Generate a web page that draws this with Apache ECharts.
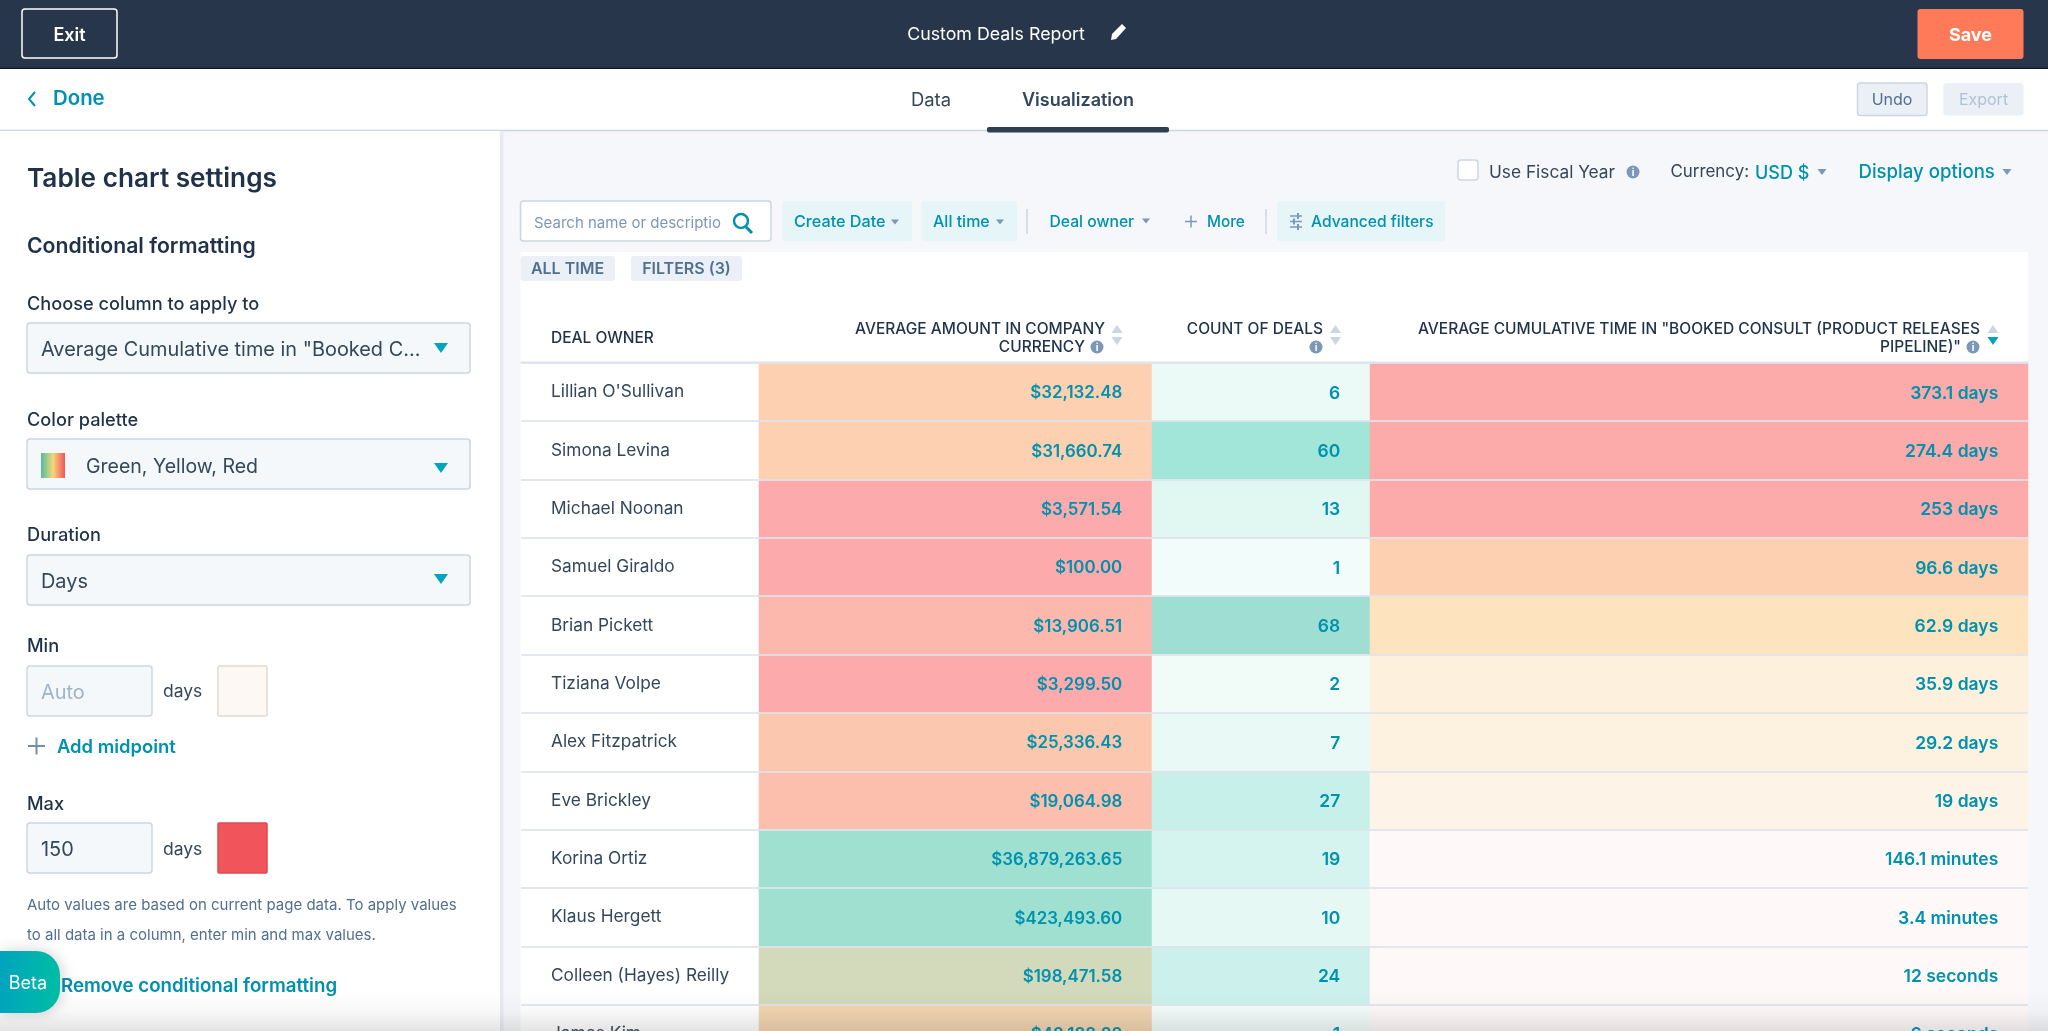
<!DOCTYPE html>
<html>
<head>
<meta charset="utf-8">
<title>Custom Deals Report</title>
<script src="https://cdn.jsdelivr.net/npm/echarts@6/dist/echarts.min.js"></script>
<style>
  html, body { margin: 0; padding: 0; background: #f5f7fa; }
  #main { width: 2048px; height: 1031px; }
</style>
</head>
<body>
<div id="main"></div>
<script>
// table data
var owners = ["Lillian O'Sullivan", 'Simona Levina', 'Michael Noonan', 'Samuel Giraldo', 'Brian Pickett', 'Tiziana Volpe',
  'Alex Fitzpatrick', 'Eve Brickley', 'Korina Ortiz', 'Klaus Hergett', 'Colleen (Hayes) Reilly', 'James Kim'];
var amounts = [32132.48, 31660.74, 3571.54, 100.00, 13906.51, 3299.50, 25336.43, 19064.98, 36879263.65, 423493.60, 198471.58, 48188.88];
var dealCounts = [6, 60, 13, 1, 68, 2, 7, 27, 19, 10, 24, 1];
var durationDays = [373.1, 274.4, 253, 96.6, 62.9, 35.9, 29.2, 19, 0.1015, 0.0024, 0.00014, 0.00007];
var durationLabels = ['373.1 days', '274.4 days', '253 days', '96.6 days', '62.9 days', '35.9 days', '29.2 days', '19 days',
  '146.1 minutes', '3.4 minutes', '12 seconds', '6 seconds'];

// colour scales of the conditional formatting: [value, colour]
var amountScale = [[3300, '#fdaaac'], [32000, '#fcd0b0'], [48188, '#f2d4b0'], [198471, '#d2dabb'], [423493, '#9fe0d0']];
var countScale = [[1, '#f2fcfa'], [10, '#e5f8f4'], [27, '#c7f0ea'], [60, '#a2e5d9'], [68, '#9fdfd3']];
var durationScale = [[0.1, '#fef9f8'], [19, '#fdf4e7'], [35.9, '#fdf0dc'], [62.9, '#fde4bf'], [96.6, '#fcd0b0'], [150, '#fdaaab']];

var FONT = 'Inter';
var TEAL = '#0091ae';
var DARK = '#33475b';
var NAVY = '#1f3249';
var SLATE = '#516f90';
var ROW_H = 58.35;
var TABLE_TOP = 362.8;

function scaleColor(scale, v) {
  if (v <= scale[0][0]) return scale[0][1];
  for (var i = 1; i < scale.length; i++) {
    if (v <= scale[i][0]) {
      var t = (v - scale[i - 1][0]) / (scale[i][0] - scale[i - 1][0]);
      return echarts.color.lerp(t, [scale[i - 1][1], scale[i][1]]);
    }
  }
  return scale[scale.length - 1][1];
}

// little helpers for the report chrome around the table
function box(x, y, w, h, fill, stroke, r, extra) {
  return Object.assign({
    type: 'rect',
    shape: { x: x, y: y, width: w, height: h, r: r || 0 },
    style: { fill: fill, stroke: stroke || null, lineWidth: stroke ? 1.5 : 0 }
  }, extra || {});
}
function txt(x, y, text, size, color, weight, align) {
  return {
    type: 'text',
    style: {
      text: text, x: x, y: y + 1.3,
      fontFamily: FONT, fontSize: size, fontWeight: weight || 400,
      fill: color, align: align || 'left', verticalAlign: 'middle'
    }
  };
}
function tri(x, y, w, h, color, up) {
  var pts = up ? [[x - w / 2, y + h / 2], [x + w / 2, y + h / 2], [x, y - h / 2]]
               : [[x - w / 2, y - h / 2], [x + w / 2, y - h / 2], [x, y + h / 2]];
  return { type: 'polygon', shape: { points: pts }, style: { fill: color } };
}
function seg(x1, y1, x2, y2, color, w) {
  return { type: 'line', shape: { x1: x1, y1: y1, x2: x2, y2: y2 }, style: { stroke: color, lineWidth: w || 1.5 } };
}
function info(x, y) {
  return [
    { type: 'circle', shape: { cx: x, cy: y, r: 6.5 }, style: { fill: '#7c98b6' } },
    txt(x, y - 0.8, 'i', 10, '#ffffff', 700, 'center')
  ];
}
function sortArrows(x, downColor) {
  return [tri(x, 329, 11, 8, '#cbd6e2', true), tri(x, 341, 11, 8, downColor || '#cbd6e2')];
}

var chrome = [
  // top bar
  box(0, 0, 2048, 68, '#27364a'),
  seg(0, 68.5, 2048, 68.5, '#10161e', 1.5),
  box(22, 9, 95, 49, null, '#ffffff', 3),
  txt(69.5, 34, 'Exit', 18, '#ffffff', 600, 'center'),
  txt(996, 33, 'Custom Deals Report', 17.8, '#ffffff', 400, 'center'),
  { type: 'polygon', shape: { points: [[1111, 40], [1112, 34], [1122, 24], [1126, 28], [1116, 39]] }, style: { fill: '#ffffff' } },
  box(1917.5, 9, 106, 50, '#ff7a59', null, 3),
  txt(1970.5, 34, 'Save', 18, '#ffffff', 700, 'center'),

  // tab row
  box(0, 69, 2048, 61, '#ffffff'),
  seg(0, 130.5, 2048, 130.5, '#cbd6e2', 1.5),
  { type: 'polyline', shape: { points: [[35, 92], [29, 99], [35, 106]] }, style: { stroke: TEAL, lineWidth: 2, fill: null } },
  txt(53, 97.5, 'Done', 20.4, TEAL, 600),
  txt(931, 99, 'Data', 18.4, DARK, 400, 'center'),
  txt(1078, 99, 'Visualization', 18, DARK, 600, 'center'),
  box(987, 127, 182, 5.5, '#2e3f50', null, 2),
  box(1857.5, 83, 69.5, 32.5, '#eaf0f6', '#cbd6e2', 3),
  txt(1892, 99, 'Undo', 16, '#506e91', 400, 'center'),
  box(1943.5, 83, 80, 32.5, '#eaf0f6', null, 3),
  txt(1983.5, 99, 'Export', 16, '#b0c1d4', 400, 'center'),

  // left settings panel
  box(0, 131, 500, 900, '#ffffff'),
  box(500, 131, 3.5, 900, '#e8ecf1'),
  txt(27, 178, 'Table chart settings', 26.2, NAVY, 600),
  txt(27, 245, 'Conditional formatting', 21.2, NAVY, 600),
  txt(27, 303, 'Choose column to apply to', 18.2, NAVY, 500),
  box(27, 323, 443, 50, '#f5f8fa', '#cbd6e2', 3),
  txt(41, 349, 'Average Cumulative time in "Booked C...', 19.9, DARK),
  tri(441, 348, 14, 10, '#00a4bd'),
  txt(27, 419, 'Color palette', 18.2, NAVY, 500),
  box(27, 439, 443, 50, '#f5f8fa', '#cbd6e2', 3),
  {
    type: 'rect', shape: { x: 41, y: 453, width: 24, height: 25 },
    style: {
      fill: new echarts.graphic.LinearGradient(0, 0, 1, 0, [
        { offset: 0, color: '#4fbf9f' }, { offset: 0.5, color: '#f5d67b' }, { offset: 1, color: '#f2545b' }
      ])
    }
  },
  txt(86, 466, 'Green, Yellow, Red', 19.5, DARK),
  tri(441, 468, 14, 10, '#00a4bd'),
  txt(27, 534, 'Duration', 18.2, NAVY, 500),
  box(27, 555, 443, 50, '#f5f8fa', '#cbd6e2', 3),
  txt(41, 580.5, 'Days', 19.9, DARK),
  tri(441, 579, 14, 10, '#00a4bd'),
  txt(27, 645, 'Min', 18.2, NAVY, 500),
  box(27, 666, 125, 50, '#f5f8fa', '#cbd6e2', 3),
  txt(41, 691.5, 'Auto', 19.9, '#9fb4c9'),
  txt(163, 690, 'days', 17.5, DARK),
  box(218, 666, 49, 50, '#fdf8f3', '#e2dad3', 1),
  seg(28, 746, 45, 746, '#6f8fb0', 2),
  seg(36.5, 737.5, 36.5, 754.5, '#6f8fb0', 2),
  txt(57, 746, 'Add midpoint', 18.4, TEAL, 600),
  txt(27, 803, 'Max', 18.2, NAVY, 500),
  box(27, 823, 125, 50, '#f5f8fa', '#cbd6e2', 3),
  txt(41, 848.5, '150', 19.9, DARK),
  txt(163, 848, 'days', 17.5, DARK),
  box(218, 823, 49, 50, '#f2545b', '#d94c53', 1),
  txt(27, 904, 'Auto values are based on current page data. To apply values', 15, SLATE),
  txt(27, 934.5, 'to all data in a column, enter min and max values.', 15, SLATE),
  txt(61, 985, 'Remove conditional formatting', 18.7, TEAL, 600),

  // toolbar over the table
  box(1458, 160, 20, 20, '#ffffff', '#cbd6e2', 3),
  txt(1489, 171.5, 'Use Fiscal Year', 17.3, DARK),
  txt(1670.5, 170.5, 'Currency:', 16.9, DARK),
  txt(1755, 172.5, 'USD $', 18, TEAL, 500),
  tri(1822, 172, 9, 6, '#7c98b6'),
  txt(1858.5, 171.5, 'Display options', 18.6, TEAL, 500),
  tri(2007, 172, 9, 6, '#7c98b6'),

  box(520.5, 201, 250.5, 40, '#ffffff', '#cbd6e2', 3),
  txt(534, 222, 'Search name or descriptio', 15, '#7c98b6'),
  { type: 'circle', shape: { cx: 741, cy: 221, r: 7 }, style: { stroke: TEAL, lineWidth: 2.5, fill: null } },
  seg(746, 227, 752, 233, TEAL, 3),
  box(782.5, 201, 129.5, 40, '#e5f5f8', null, 3),
  txt(794, 221, 'Create Date', 16.2, TEAL, 500),
  tri(895, 222, 8, 5, '#7c98b6'),
  box(921.5, 201, 95.5, 40, '#e5f5f8', null, 3),
  txt(933, 221, 'All time', 16, TEAL, 500),
  tri(1000, 222, 8, 5, '#7c98b6'),
  seg(1027, 209, 1027, 234, '#cbd6e2'),
  txt(1049.5, 221, 'Deal owner', 15.7, TEAL, 500),
  tri(1146, 221, 8, 5, '#7c98b6'),
  seg(1185, 221.5, 1197, 221.5, '#7c98b6', 1.5),
  seg(1191, 215.5, 1191, 227.5, '#7c98b6', 1.5),
  txt(1207, 221, 'More', 15.3, TEAL, 500),
  seg(1266, 209, 1266, 234, '#cbd6e2'),
  box(1277, 201, 168, 40, '#e5f5f8', null, 3),
  seg(1290, 216, 1302, 216, '#7c98b6', 1.5),
  seg(1290, 221.5, 1302, 221.5, '#7c98b6', 1.5),
  seg(1290, 227, 1302, 227, '#7c98b6', 1.5),
  seg(1298, 213, 1298, 219, '#7c98b6', 2),
  seg(1294, 218.5, 1294, 224.5, '#7c98b6', 2),
  seg(1298, 224, 1298, 230, '#7c98b6', 2),
  txt(1311, 221, 'Advanced filters', 15.6, TEAL, 500),

  // table card and column headers
  box(520.5, 252, 1507.5, 790, '#ffffff', null, 2),
  box(520.5, 256, 94.5, 25, '#eaf0f6', null, 3),
  txt(567.5, 267.5, 'ALL TIME', 16, SLATE, 600, 'center'),
  box(631, 256, 111, 25, '#eaf0f6', null, 3),
  txt(686.5, 267.5, 'FILTERS (3)', 16, SLATE, 600, 'center'),
  seg(520.5, 362.5, 2028, 362.5, '#dfe3eb', 2),
  txt(551, 337, 'DEAL OWNER', 15.5, NAVY, 500),
  txt(1105, 328, 'AVERAGE AMOUNT IN COMPANY', 15.5, NAVY, 500, 'right'),
  txt(1085, 346, 'CURRENCY', 15.5, NAVY, 500, 'right'),
  txt(1323, 328, 'COUNT OF DEALS', 15.5, NAVY, 500, 'right'),
  txt(1980, 328, 'AVERAGE CUMULATIVE TIME IN "BOOKED CONSULT (PRODUCT RELEASES', 15.5, NAVY, 500, 'right'),
  txt(1961, 346, 'PIPELINE)"', 15.5, NAVY, 500, 'right')
].concat(info(1633, 172), info(1097, 347), info(1316, 347), info(1973, 347),
  sortArrows(1117), sortArrows(1335.5), sortArrows(1993, '#00a4bd'));

// things that sit on top of the table: beta tab and the fade at the window bottom
var overlay = [
  {
    type: 'rect', z: 100,
    shape: { x: 0, y: 990, width: 2048, height: 41 },
    style: {
      fill: new echarts.graphic.LinearGradient(0, 0, 0, 1, [
        { offset: 0, color: 'rgba(60,60,60,0)' },
        { offset: 0.5, color: 'rgba(60,60,60,0.03)' },
        { offset: 1, color: 'rgba(60,60,60,0.14)' }
      ])
    }
  },
  {
    type: 'rect', z: 101,
    shape: { x: 0, y: 951, width: 60, height: 62, r: [0, 24, 24, 0] },
    style: {
      fill: new echarts.graphic.LinearGradient(0, 0, 1, 0, [
        { offset: 0, color: '#00a4bd' }, { offset: 1, color: '#00bda5' }
      ]),
      shadowBlur: 14, shadowColor: 'rgba(0,0,0,0.18)', shadowOffsetX: 2
    }
  },
  {
    type: 'text', z: 102,
    style: { text: 'Beta', x: 28, y: 984, fontFamily: FONT, fontSize: 18, fill: '#ffffff', align: 'center', verticalAlign: 'middle' }
  }
];

// one grid per column, the rows are shared
var columns = [
  { left: 521, right: 759 },
  { left: 759, right: 1152 },
  { left: 1152, right: 1370 },
  { left: 1370, right: 2028 }
];

function cellSeries(gridIndex, values, scale, labels, fontSize) {
  return {
    type: 'heatmap',
    xAxisIndex: gridIndex,
    yAxisIndex: gridIndex,
    data: values.map(function (v, i) {
      return { value: [0, i, v], itemStyle: { color: scaleColor(scale, v) } };
    }),
    label: {
      show: true,
      position: 'insideRight',
      distance: 30,
      offset: [0, 1.3],
      color: TEAL,
      fontFamily: FONT,
      fontSize: fontSize,
      fontWeight: 600,
      formatter: function (p) { return labels[p.dataIndex]; }
    },
    emphasis: { disabled: true },
    silent: true
  };
}

var amountLabels = amounts.map(function (v) {
  return '$' + v.toLocaleString('en-US', { minimumFractionDigits: 2, maximumFractionDigits: 2 });
});
var countLabels = dealCounts.map(String);

var chart = echarts.init(document.getElementById('main'), null, { renderer: 'canvas' });
chart.setOption({
  animation: false,
  backgroundColor: '#f5f7fa',
  textStyle: { fontFamily: FONT },
  graphic: { elements: chrome.concat(overlay) },
  grid: columns.map(function (c) {
    // the last row runs past the window bottom, so no clamping to the canvas
    return { left: c.left, top: TABLE_TOP, width: c.right - c.left, height: ROW_H * owners.length, outerBoundsMode: 'none' };
  }),
  xAxis: columns.map(function (c, i) {
    return { type: 'category', gridIndex: i, data: ['col'], show: false };
  }),
  yAxis: columns.map(function (c, i) {
    return {
      type: 'category',
      gridIndex: i,
      inverse: true,
      data: owners,
      z: 3,
      axisLine: { show: false },
      axisTick: { show: false },
      axisLabel: i === 0
        ? { show: true, inside: true, margin: 30, align: 'left', padding: [3, 0, 0, 0], color: DARK, fontFamily: FONT, fontSize: 17.3 }
        : { show: false },
      splitLine: { show: true, lineStyle: { color: 'rgba(223,227,235,0.85)', width: 2 } }
    };
  }),
  series: [
    cellSeries(1, amounts, amountScale, amountLabels, 16.9),
    cellSeries(2, dealCounts, countScale, countLabels, 17.5),
    cellSeries(3, durationDays, durationScale, durationLabels, 17.5)
  ]
});
</script>
</body>
</html>
